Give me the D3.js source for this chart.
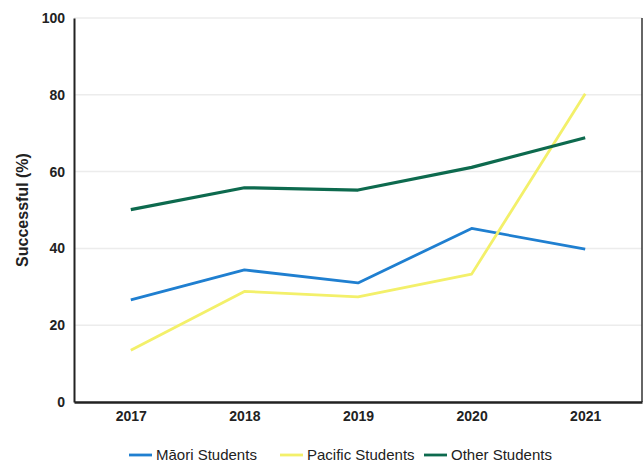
<!DOCTYPE html>
<html>
<head>
<meta charset="utf-8">
<script src="https://cdn.jsdelivr.net/npm/d3@7"></script>
<style>
  body { margin: 0; background: #fff; }
  svg { font-family: "Liberation Sans", Arial, sans-serif; }
</style>
</head>
<body>
<svg id="chart" width="644" height="465"></svg>
<script>
// data
var years = ["2017", "2018", "2019", "2020", "2021"];
var maori = [26.6, 34.4, 31.0, 45.2, 39.8];
var pacific = [13.5, 28.8, 27.4, 33.3, 80.3];
var other = [50.1, 55.8, 55.2, 61.1, 68.8];
var yTicks = [0, 20, 40, 60, 80, 100];

var seriesNames = ["Māori Students", "Pacific Students", "Other Students"];
var seriesColors = ["#1f7fd0", "#f3f06a", "#0d6a4e"];
var series = [maori, pacific, other];

var svg = d3.select("#chart");
var margin = {top: 18, right: 2, bottom: 63, left: 74};
var width = +svg.attr("width") - margin.left - margin.right;
var height = +svg.attr("height") - margin.top - margin.bottom;

var g = svg.append("g")
    .attr("transform", "translate(" + margin.left + "," + margin.top + ")");

var x = d3.scalePoint()
    .domain(years)
    .range([0, width])
    .padding(0.5);

var y = d3.scaleLinear()
    .domain([0, 100])
    .range([height, 0]);

// gridlines
g.append("g")
  .selectAll("line")
    .data(yTicks)
    .enter().append("line")
    .attr("x1", 0)
    .attr("x2", width)
    .attr("y1", function(d) { return y(d); })
    .attr("y2", function(d) { return y(d); })
    .attr("stroke", "#ececec")
    .attr("stroke-width", 1.5);

// right border
g.append("line")
    .attr("x1", width).attr("x2", width)
    .attr("y1", y(100)).attr("y2", y(0))
    .attr("stroke", "#333")
    .attr("stroke-width", 1.5);

// y axis
var yAxis = g.append("g")
    .call(d3.axisLeft(y).tickValues(yTicks).tickSize(0).tickPadding(9));
yAxis.select(".domain").attr("stroke", "#222").attr("stroke-width", 2);
yAxis.selectAll("text")
    .attr("font-size", 14)
    .attr("font-weight", "bold")
    .attr("fill", "#222");

// x axis
var xAxis = g.append("g")
    .attr("transform", "translate(0," + height + ")")
    .call(d3.axisBottom(x).tickSize(0).tickPadding(9));
xAxis.select(".domain").attr("stroke", "#222").attr("stroke-width", 2.5);
xAxis.selectAll("text")
    .attr("font-size", 14)
    .attr("font-weight", "bold")
    .attr("fill", "#222");

// y title
svg.append("text")
    .attr("transform", "translate(22," + (margin.top + height / 2) + ") rotate(-90)")
    .attr("text-anchor", "middle")
    .attr("dy", "0.35em")
    .attr("font-size", 16)
    .attr("font-weight", "bold")
    .attr("fill", "#222")
    .text("Successful (%)");

// lines
var line = d3.line()
    .x(function(d, i) { return x(years[i]); })
    .y(function(d) { return y(d); });

g.append("g")
  .selectAll("path")
    .data(series)
    .enter().append("path")
    .attr("fill", "none")
    .attr("stroke", function(d, i) { return seriesColors[i]; })
    .attr("stroke-width", function(d, i) { return i == 2 ? 3.2 : 2.8; })
    .attr("stroke-linejoin", "round")
    .attr("d", line);

// legend
var legendX = [129, 280, 424];
var legend = svg.append("g")
    .attr("transform", "translate(0,455)");

var item = legend.selectAll("g")
    .data(seriesNames)
    .enter().append("g")
    .attr("transform", function(d, i) { return "translate(" + legendX[i] + ",0)"; });

item.append("line")
    .attr("x1", 0).attr("x2", 23)
    .attr("stroke", function(d, i) { return seriesColors[i]; })
    .attr("stroke-width", 2.8);

item.append("text")
    .attr("x", 27)
    .attr("dy", "0.35em")
    .attr("font-size", 15)
    .attr("fill", "#222")
    .text(function(d) { return d; });
</script>
</body>
</html>
